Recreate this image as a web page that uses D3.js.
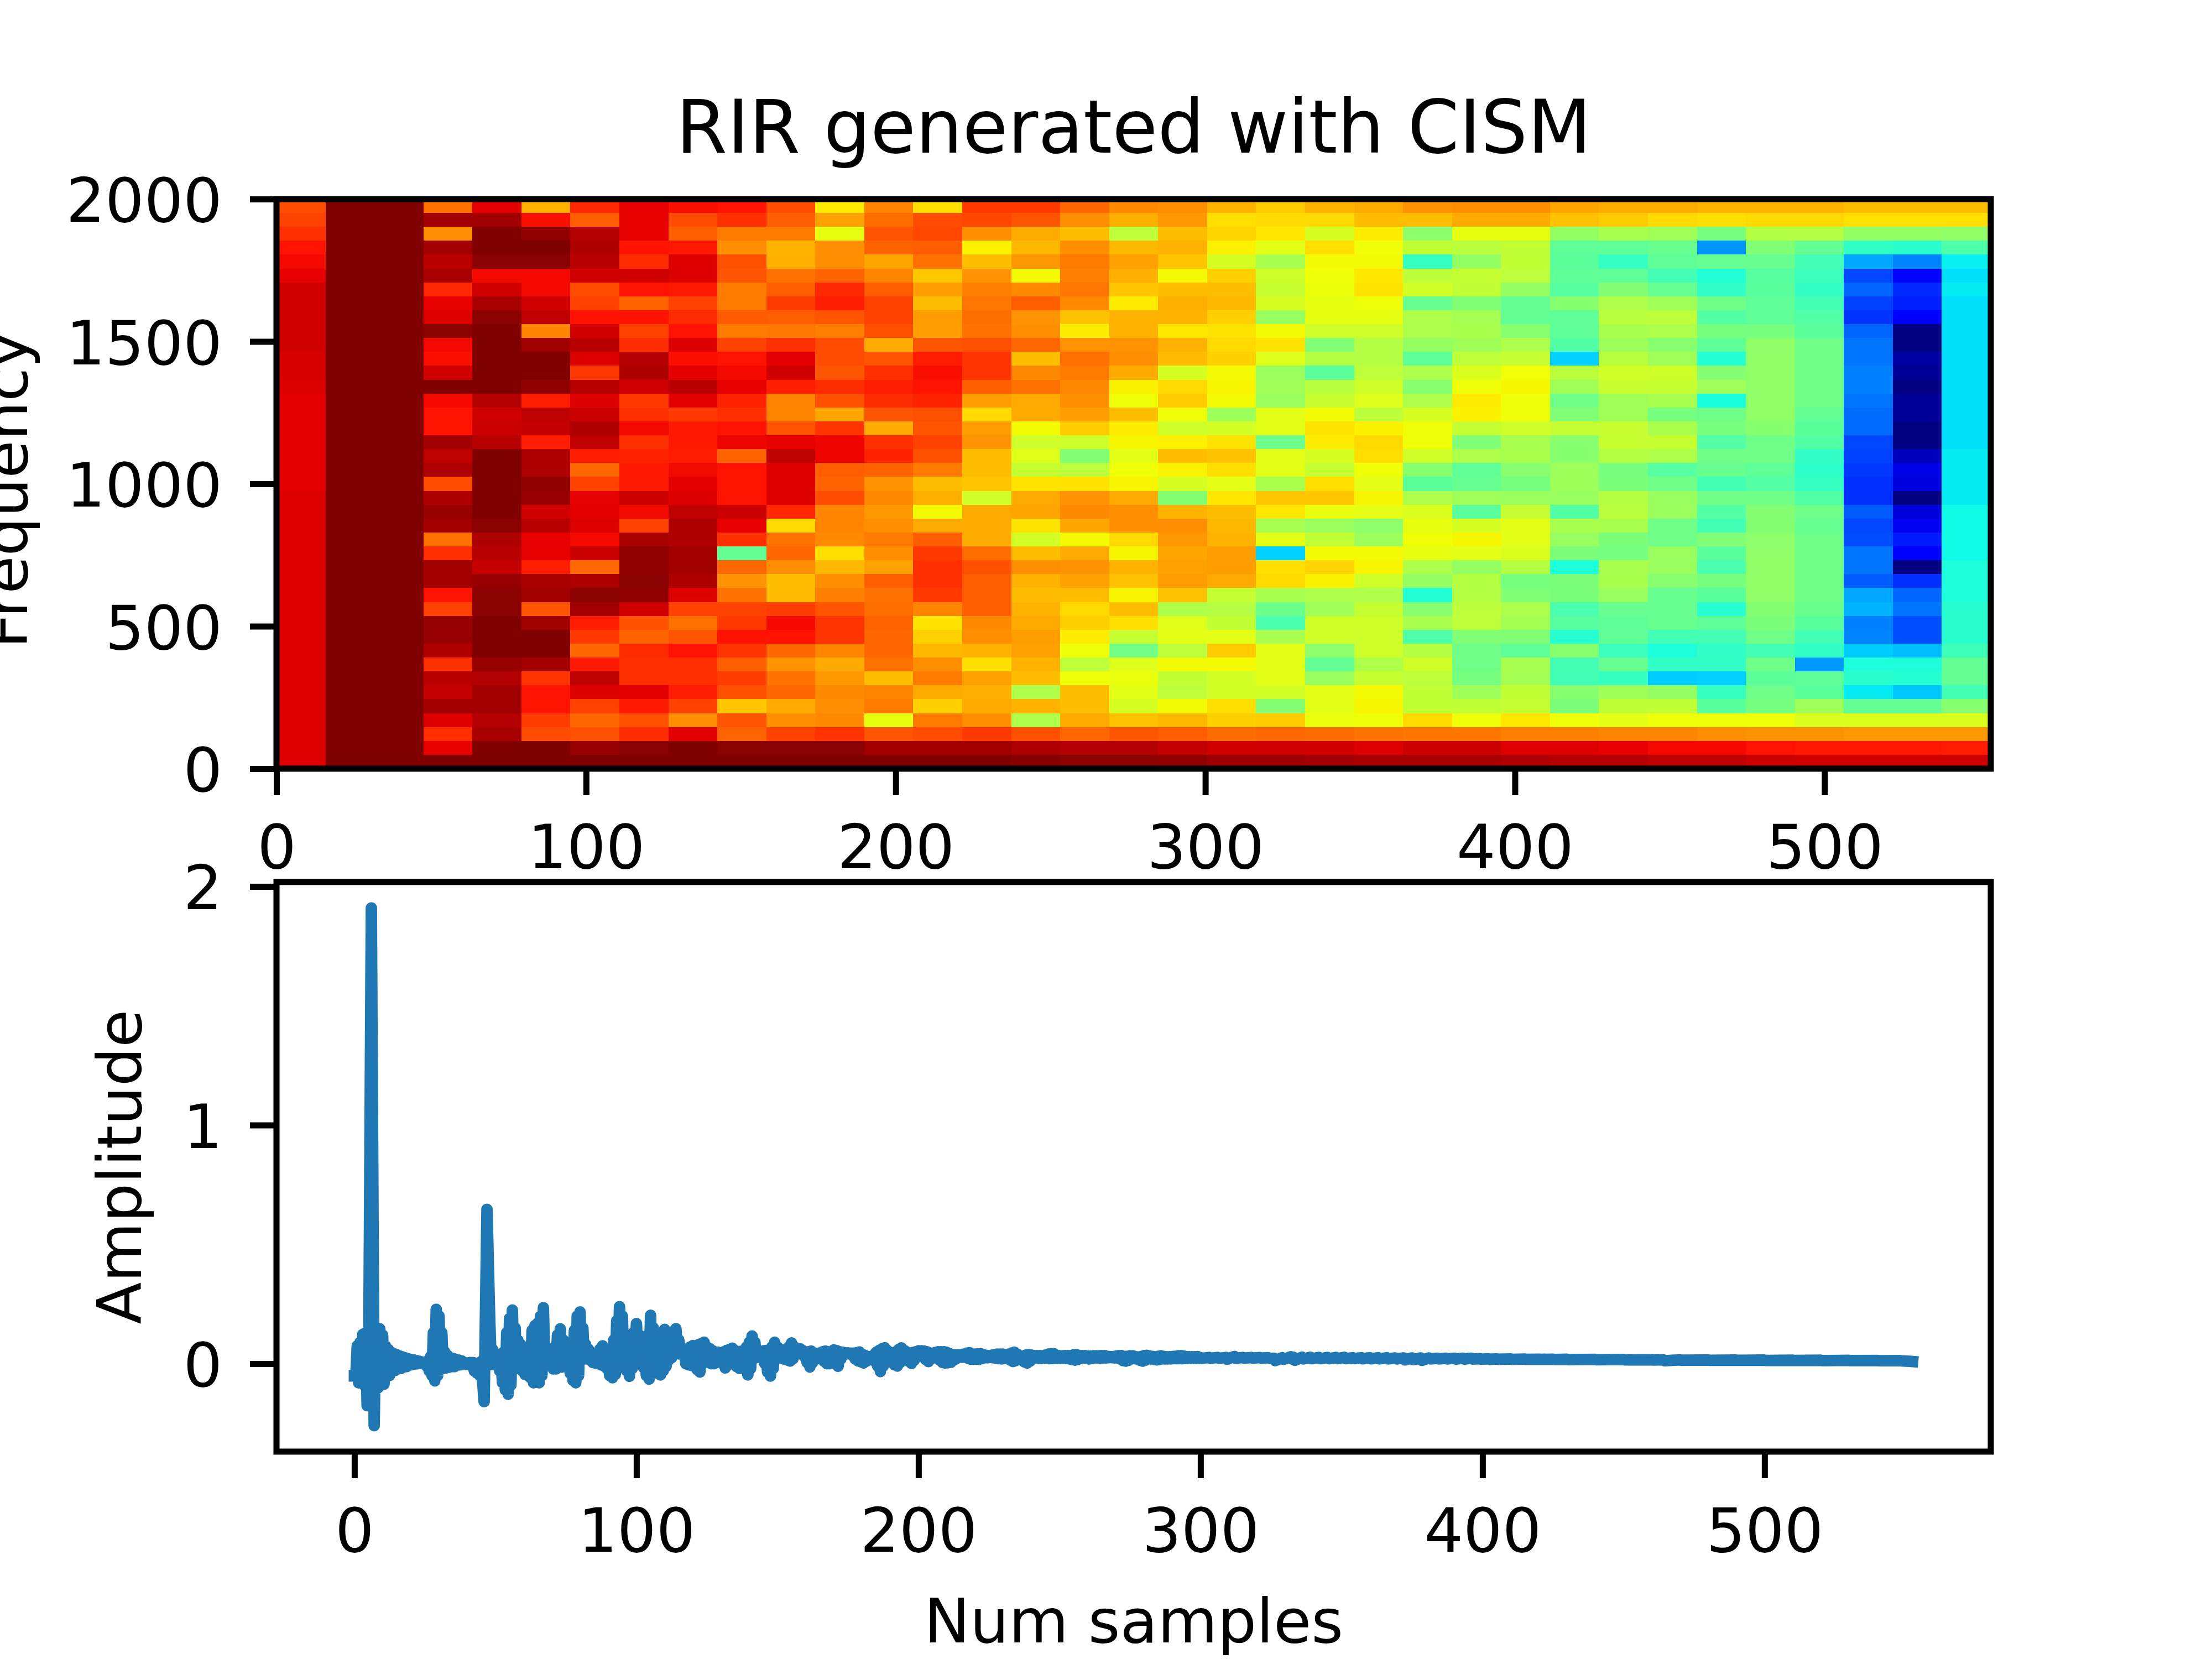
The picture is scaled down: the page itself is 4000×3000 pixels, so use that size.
<!DOCTYPE html>
<html><head><meta charset="utf-8">
<script src="https://cdn.jsdelivr.net/npm/d3@7"></script>
<style>html,body{margin:0;padding:0;background:#fff}svg{display:block}text{font-family:"DejaVu Sans";fill:#000}</style>
</head><body><div id="chart"></div>
<script>
// Spectrogram levels (0-100 on the jet colour range), one array per time column, top row (2000 Hz) first.
const col00=[83,84,86,89,90,91,93,93,93,93,93,92.5,92.5,92,91.5,91.5,91.5,91.5,91.5,91.5,91.5,92,92,92,92,92,92,92,92,92,92,92,92,92,92,92,92,92,92,92,92];
const col01=[100,100,100,100,100,100,100,100,100,100,100,100,100,100,100,100,100,100,100,100,100,100,100,100,100,100,100,100,100,100,100,100,100,100,100,100,100,100,100,100,100];
const col02=[100,100,100,100,100,100,100,100,100,100,100,100,100,100,100,100,100,100,100,100,100,100,100,100,100,100,100,100,100,100,100,100,100,100,100,100,100,100,100,100,100];
const col03=[79,97,76,97,95,96.5,87,91,92,99,90,89.5,93,100,90,89,89,97,94.5,96,83,96,98,97,79,86,97,97,89,84,98,98,96,86,95,94,97,92,86,91,100];
const col04=[91.5,97,100,100,99,90,93,96.5,99,100,100,100,100,100,95.5,93,93.5,95,100,100,100,100,100,99,96,95,94,98,99,99,100,100,100,98,95.5,97,97,95.5,96.5,100,100];
const col05=[72,89.5,98.5,100,99,90,90,93,94.5,77,97,100,100,98.5,88,94.5,94,88,96,96,98.5,98,93,95,91,91,88,96.5,97,82,97,100,100,97,85.5,89,89,84.5,83,100,100];
const col06=[87,81,95.5,96,95,93,83,84,89,93,95,92,85,95,92,93.5,96,94.5,88,80,84,91,91.5,92,90,93.5,80,96,99,97,88,85,80,88.5,94.5,92,84,80,82.5,98,100];
const col07=[91,91,91,89,86.5,93,89,80.5,89,84,86.5,95.5,96,93,85,86,90,86,87.5,88.5,88.5,93.5,90,84,96.5,98.5,98.5,99,98.5,93,82.5,80.5,86.5,86,86,91.5,88.5,82.5,86.5,99,100];
const col08=[89.5,83,81,88.5,92,92,88.5,84,86.5,89,92,89.5,91.5,95,91.5,85,88.5,88.5,88,90,91.5,92,94.5,96,96,97,97,96,92,84,79,82,89,86,86,88,84,76,91.5,100,100];
const col09=[89,86,78,76,82.5,82,78,78,81.5,78,84,89,90,91,87.5,86,89,90.5,80.5,89,89,89,93.5,91,86,47,80,75.5,79,84,85,89,85.5,81,84.5,82.5,70,82,80.5,99,100];
const col10=[83,81,78,72,72.5,79,81,84.5,81,78.5,86,91.5,93,88,77,77,82,91,94.5,92,92,92,87,68,79,80,76,71,71,84.5,90,89,80,75.5,79,80,73,76,84,99,100];
const col11=[66,74,63,76,76,80.5,87,88,82,77.5,83,83,82,86.5,82.5,73.5,85.5,90.5,90.5,81,80.5,83,77,77,76.5,67.5,71.5,76,77.5,82,85.5,85.5,77,73,75,76.5,76,76.5,85.5,99,100];
const col12=[77,79.5,82,80.5,73.5,77,81,84,84,82.5,73,82,86,88,86.5,82,73,86,87.5,80.5,75.5,76.5,75,76,78,76,74,81,79,79.5,80.5,80,80,79,71,77,78,63,82,97,100];
const col13=[67.5,83,83.5,81,79,70,74.5,71,74.5,74.5,82,88,89.5,89,87.5,82.5,82,84,82.5,78,71,72.5,64.5,73,81,85,86,86,85,77,67,69,71.5,76,78,73,69,78,83,97,100];
const col14=[85,83.5,76,65.5,71,75.5,77.5,78.5,79.5,79,82.5,85.5,85.5,81,74.5,68,74.5,75.5,71,71,70,60,73,73,73,79.5,82.5,81,81,81,76.5,76,72,67.5,74,72.5,73,76,85,97,100];
const col15=[85,82,73,71.5,75,64.5,76.5,81,75.5,76,80,71,76.5,79,73,73,64.5,60,62,59,67,73,73.5,67,60.5,71,76,72,71,72,73,74.5,74,72,71,56,72,56,82.5,96,99.5];
const col16=[80,76,71,76,78,77.5,78.5,76.5,70.5,66,75.5,79,78,76.5,76,74.5,69.5,60,51,58,67,75.5,76.5,73.5,64.5,73,75.5,74,71,68,69,66,64,58,64,71,71,73,80,95.5,99];
const col17=[76.5,72.5,58,71.5,74,72.5,70,66,72,72,75.5,76,73,65.5,64,71,66,65,62.5,64,65,73,76,76,68,65,72,70.5,65,71,67.5,59,49,62,63.5,62.5,61,70.5,82,95.5,99];
const col18=[76,75,71,72,70,64.5,71,72.5,72,66.5,72,71,61,68,69.5,64,60,65.5,71,65.5,61,51,72,76,75,73.5,74,74.5,70.5,56,62,62.5,58,64.5,58.5,58,64.5,71.5,81,94,98.5];
const col19=[72,67.5,68.5,65.5,61,69,71,71.5,69,67,68,69,64.5,65,64.5,54,60.5,67,70.5,67.5,62.5,66.5,71,71.5,72,74.5,74.5,73,59,57,58.5,62.5,69.5,64.5,60.5,60.5,67.5,69,79.5,93,97.5];
const col20=[69.5,68,66.5,62.5,55.5,60,59,61,53.5,64.5,67,62,53.5,54.5,53.5,62.5,62.5,48,62.5,62.5,55.5,70,66.5,55,62.5,33,67.5,68,55.5,48,44,55.5,62.5,62.5,62.5,60.5,51,69.5,80,93,97.5];
const col21=[72,68,61,67.5,64.5,64,63.5,63,63,60,50.5,57,46,57.5,59,64.5,67,66,61,59,67.5,70,63.5,53.5,58.5,64.5,68.5,65.5,56,54.5,60,60,52,47,53.5,62.5,62.5,63.5,79.5,93,97];
const col22=[73,71,66,64,64.5,66.5,67,64,63,60,57,57,58,60,62,58,65.5,68,67.5,64,62.5,65,62.5,52,54,64.5,65,60,56,59,60,60,60,56,59,64.5,65,64,79,92,96.5];
const col23=[75.5,71,52,58.5,41.5,58,60.5,47.5,56,56,53,46.5,56,51.5,56,61,64,64,60,51.5,46,56,61.5,63,64,63,56,53,39,51.5,55.5,44.5,57,60,58,58.5,58.5,68,78.5,93.5,96.5];
const col24=[76,73,63,57.5,53,59,58.5,50.5,55,55.5,54.5,58,61.5,64,66,65.5,59,50.5,56,46.5,47.5,54.5,46,61,65,62.5,53,57,57,58,58,50.5,48.5,48.5,49.5,54,58.5,64,78.5,93.5,96.5];
const col25=[76,73,63,58.5,58.5,58,53,47,47,51.5,56,59,64,65,64,64,60,55.5,55.5,51.5,49.5,53.5,59,62.5,62.5,61.5,57,49.5,50.5,56,55,50.5,46.5,55.5,55,58.5,59,66.5,77.5,92,96];
const col26=[73.5,70.5,53,46.5,46,46.5,45.5,51.5,46.5,46.5,45,33,57.5,54.5,48.5,50.5,59,51.5,51.5,54,54,53.5,45,55.5,53.5,50,38.5,50,50,44,45.5,39.5,51.5,43,43,51.5,50,64,77.5,92,95.5];
const col27=[73,69.5,55.5,46.5,41.5,46.5,51,56,57.5,55.5,54,57.5,60.5,59,54.5,54.5,59,59,57,49.5,50,57,57.5,55.5,50,49.5,55.5,55.5,53.5,47.5,46.5,46.5,42,47.5,41.5,54,58.5,62.5,77,91,95.5];
const col28=[73,68,54.5,47.5,46.5,43,47.5,54.5,58,56,51.5,54.5,60,59,55.5,49.5,55.5,59,56,45.5,48.5,53.5,53.5,48.5,48.5,53.5,53.5,51.5,47.5,47.5,47.5,43,38.5,41,32.5,53,58.5,64,77,90,94.5];
const col29=[72,67.5,49.5,27,47.5,39,41,48.5,45,49.5,46.5,39.5,51,54.5,38,48.5,49.5,45,48.5,47.5,43,48.5,45,43,50.5,46,44,49.5,46,39.5,46.5,43,41,41,33,41.5,46,64,76,90,94.5];
const col30=[72,68,57,50.5,47.5,45.5,46,46.5,46.5,49.5,52.5,52.5,52.5,52.5,52.5,52.5,51.5,48.5,48.5,46.5,45,48.5,51,51,52,52.5,52.5,52.5,52.5,51,50,48.5,43,48.5,46,48.5,49.5,64,75.5,89,93.5];
const col31=[72,68,57,47,43,42,41,43,45,46,48.5,48.5,48.5,48.5,48.5,47,46,45,41,40.5,41.5,45,48.5,47.5,48.5,48.5,48.5,48.5,48.5,47.5,46,43,41,27.5,46.5,46,54.5,61.5,75.5,88.5,93];
const col32=[71,67.5,53,41,29,19.5,22.5,19,17.5,22.5,24,24,25,25,24,23,23,19.5,19,18,17,17,21.5,19.5,20,24,24,21.5,29,30,25,25.5,32.5,38.5,40,35.5,47,61.5,75,88.5,93];
const col33=[71,67.5,53,40,25.5,12,16.5,15.5,12,0,0,3,2,0,2,2,0,0,5,9,8,0,8,10,15,12,0,17,22.5,24,20,20,31,38.5,39.5,32,47,61.5,75,88.5,93];
const col34=[71,67.5,52.5,44.5,36,34.5,35.5,34.5,34.5,34.5,34.5,34.5,34.5,34.5,34.5,34.5,34.5,34.5,35.5,35.5,35.5,35.5,37,37,37,37,38.5,38.5,38.5,40,40,40,42.5,47,47,43,51.5,61.5,75,88,93];
const spectrogram=[col00,col01,col02,col03,col04,col05,col06,col07,col08,col09,col10,col11,col12,col13,col14,col15,col16,col17,col18,col19,col20,col21,col22,col23,col24,col25,col26,col27,col28,col29,col30,col31,col32,col33,col34];

// Waveform: the fast oscillation swings between two values at each sample.
const sampleIndex=[0,1,2,3,4,5,6,7,8,9,10,11,12,13,14,15,16,17,18,19,20,21,22,23,24,25,26,27,28,29,30,31,32,33,34,35,36,37,38,39,40,41,42,43,44,45,46,47,48,49,
50,51,52,53,54,55,56,57,58,59,60,61,62,63,64,65,66,67,68,69,70,71,72,73,74,75,76,77,78,79,80,81,82,83,84,85,86,87,88,89,90,91,92,93,94,95,96,97,98,99,
100,101,102,103,104,105,106,107,108,109,110,111,112,113,114,115,116,117,118,119,120,121,122,123,124,125,126,127,128,129,130,131,132,133,134,135,136,137,138,139,140,141,142,143,144,145,146,147,148,149,
150,151,152,153,154,155,156,157,158,159,160,161,162,163,164,165,166,167,168,169,170,171,172,173,174,175,176,177,178,179,180,181,182,183,184,185,186,187,188,189,190,191,192,193,194,195,196,197,198,199,
200,201,202,203,204,205,206,207,208,209,210,211,212,213,214,215,216,217,218,219,
220,221,222,223,224,225,226,227,228,229,230,231,232,233,234,235,236,237,238,239,240,241,242,243,244,245,246,247,248,249,250,251,252,253,254,255,256,257,258,259,
260,261,262,263,264,265,266,267,268,269,270,271,272,273,274,275,276,277,278,279,280,281,282,283,284,285,286,287,288,289,290,291,292,293,294,295,296,297,298,299,
300,303,306,309,312,315,318,321,324,326,329,332,333,336,339,342,345,348,351,354,357,360,363,366,369,372,375,378,381,384,387,390,393,396,399,402,405,
410,415,420,425,430,440,450,460,464,470,480,490,500,510,520,530,540,548,552];
const upperSwing=[-.051,.075,.09,.123,.13,-.12,1.91,-.26,.14,.146,
.12,.075,.06,.048,.042,.038,.033,.029,.025,.021,
.018,.016,.013,.01,.007,.004,.012,.03,.13,.228,
.2,.13,.05,.035,.025,.022,.018,.015,.012,.005,
.003,.005,.005,.002,0,.01,-.159,.647,.176,.06,
.044,.03,.013,.05,.13,.19,.225,.15,.098,.08,
.071,.05,.063,.14,.16,.17,.2,.235,.06,.055,
.052,.07,.12,.146,.1,.063,.06,.07,.14,.2,
.217,.15,.08,.06,.04,.03,.03,.06,.075,.06,
.03,.02,.1,.18,.239,.2,.12,.05,.08,.13,
.168,.12,.07,.063,.12,.203,.15,.09,.09,.12,
.144,.125,.125,.135,.147,.1,.067,.058,.06,.07,
.076,.075,.08,.085,.09,.07,.063,.055,.048,.048,
.044,.05,.056,.06,.065,.055,.048,.052,.056,.07,
.09,.116,.09,.048,.05,.054,.055,.056,.07,.09,
.07,.06,.058,.056,.07,.087,.07,.06,.063,.055,
.044,.05,.053,.045,.038,.045,.05,.053,.05,.05,
.058,.055,.05,.048,.046,.045,.044,.044,.046,.049,
.04,.035,.03,.028,.035,.048,.055,.062,.067,.055,
.048,.04,.05,.06,.066,.055,.048,.045,.047,.05,
.054,.054,.053,.05,.045,.044,.047,.05,.05,.05,
.048,.042,.038,.037,.037,.037,.04,.044,.046,.04,
.04,.041,.042,.038,.035,.034,.036,.038,.04,.04,
.04,.035,.04,.045,.048,.04,.032,.032,.036,.038,
.036,.034,.034,.034,.033,.036,.04,.042,.042,.035,
.033,.033,.034,.034,.034,.037,.038,.035,.034,.034,
.032,.032,.033,.033,.033,.034,.034,.031,.03,.03,
.032,.034,.034,.03,.031,.033,.033,.03,.028,.03,
.034,.035,.032,.03,.028,.031,.033,.03,.029,.029,
.03,.031,.033,.034,.032,.03,.029,.029,.029,.03,
.0255,.026,.026,.026,.03,.026,.026,.0255,.025,.023,.025,.029,.027,.027,.027,.026,.026,.026,.027,.025,.025,.025,.025,.025,.024,.024,.024,.024,.024,.023,.023,.023,.023,.023,.021,.0205,.02,
.02,.0195,.019,.019,.0185,.018,.0175,.0165,.0165,.016,.0155,.015,.015,.0145,.0145,.014,.0135,.013,.0095];
const lowerSwing=[-.051,-.08,-.08,-.09,-.176,.9,.825,.14,-.1,-.086,
-.086,-.05,-.049,-.03,-.028,-.022,-.02,-.014,-.012,-.006,
-.004,-.001,0,.001,.001,-.009,-.03,-.05,-.072,-.05,
-.02,-.02,-.018,-.015,-.012,-.012,-.005,-.005,-.003,-.003,
-.003,-.01,-.03,-.04,-.05,-.08,.24,.41,-.004,-.004,
-.004,-.03,-.08,-.11,-.128,-.09,-.02,-.02,-.02,-.03,
-.045,-.05,-.06,-.08,-.075,-.08,-.05,.015,0,-.01,
-.022,-.022,-.014,-.014,-.01,-.014,-.04,-.07,-.08,-.05,
.02,.02,.02,.015,.005,.002,.007,-.005,-.01,-.02,
-.05,-.059,-.045,-.02,.018,.01,-.03,-.053,-.02,.02,
.025,.02,-.016,-.05,-.065,-.04,-.036,-.04,-.047,-.03,
-.012,.015,.025,.04,.049,.04,.038,0,-.005,-.007,
-.01,-.025,-.035,0,.033,.02,0,0,.01,.015,
0,-.018,-.005,.011,0,-.012,-.02,-.018,-.016,-.047,
-.02,.025,.025,.028,.028,0,-.035,-.052,-.02,.027,
.025,.022,.019,.015,.011,.02,.038,.045,.049,.03,
.005,-.014,.005,.022,.022,.02,.01,0,0,.01,
0,-.011,.02,.04,.042,.042,.035,.02,.012,.008,
.003,.01,.017,.018,.01,-.01,-.033,-.01,.011,.011,
.005,-.005,-.01,.005,.022,.02,.01,.001,.015,.03,
.04,.03,.018,.009,.02,.028,.025,.015,.005,.003,
.004,.006,.015,.022,.027,.027,.027,.023,.019,.019,
.019,.018,.022,.025,.025,.026,.025,.023,.021,.02,
.022,.022,.015,.009,.013,.017,.018,.008,.003,.01,
.024,.024,.023,.023,.024,.023,.021,.022,.023,.023,
.023,.023,.022,.02,.017,.015,.018,.024,.024,.022,
.02,.022,.024,.024,.023,.024,.024,.025,.025,.024,
.024,.02,.013,.011,.014,.021,.021,.02,.014,.011,
.015,.022,.02,.018,.016,.018,.02,.02,.02,.02,
.021,.021,.021,.021,.022,.022,.022,.022,.022,.023,
.0225,.0225,.0225,.019,.0225,.0235,.0235,.0235,.022,.013,.0185,.019,.0145,.02,.021,.021,.021,.021,.021,.021,.0205,.0205,.02,.02,.02,.016,.017,.014,.02,.02,.02,.0195,.0195,.0195,.019,.0185,.0185,
.018,.018,.018,.0175,.017,.0165,.016,.0155,.0125,.0145,.014,.014,.0135,.0135,.013,.013,.0125,.012,.009];

const specXTicks=[0,100,200,300,400,500];
const freqTicks=[0,500,1000,1500,2000];
const waveXTicks=[0,100,200,300,400,500];
const ampTicks=[0,1,2];
const titleText="RIR generated with CISM";
const freqLabel="Frequency", ampLabel="Amplitude", xLabel="Num samples";

const W=4000,H=3000,L=500,R=3600,T1=360,B1=1390,T2=1595,B2=2625;
const FS=111,TS=133.3,SW=11,TL=48;

const svg=d3.select("#chart").append("svg").attr("width",W).attr("height",H).attr("viewBox",`0 0 ${W} ${H}`);
svg.append("rect").attr("width",W).attr("height",H).attr("fill","#fff");

// matplotlib jet, channel by channel
const rC=d3.scaleLinear().domain([0,.35,.66,.89,1]).range([0,0,1,1,.5]);
const gC=d3.scaleLinear().domain([0,.125,.375,.64,.91,1]).range([0,0,1,1,0,0]);
const bC=d3.scaleLinear().domain([0,.11,.34,.65,1]).range([.5,1,1,0,0]);
const jet=v=>{const t=v/100;return d3.rgb(rC(t)*255,gC(t)*255,bC(t)*255).formatHex();};

const xS=d3.scaleLinear().domain([0,553.7]).range([L,R]);
const yS=d3.scaleLinear().domain([0,2000]).range([B1,T1]);
const nCols=spectrogram.length,nRows=col00.length;
const dxBin=553.7/nCols,dyBin=2000/nRows;
const cells=spectrogram.flatMap((c,i)=>c.map((v,r)=>({i,r,v})));
svg.append("g").selectAll("rect").data(cells).join("rect")
  .attr("x",d=>xS(d.i*dxBin))
  .attr("width",d=>xS((d.i+1)*dxBin)-xS(d.i*dxBin)+.6)
  .attr("y",d=>yS(2000-d.r*dyBin))
  .attr("height",d=>yS(2000-(d.r+1)*dyBin)-yS(2000-d.r*dyBin)+.6)
  .attr("fill",d=>jet(d.v))
  .attr("shape-rendering","crispEdges");

const xW=d3.scaleLinear().domain([-27.63,580.23]).range([L,R]);
const yW=d3.scaleLinear().domain([-.3685,2.0185]).range([B2,T2]);
const line=d3.line().x(d=>xW(d[0])).y(d=>yW(d[1])).curve(d3.curveLinear);
const wavePoints=sampleIndex.flatMap((s,i)=>[[s,upperSwing[i]],[s+.5,lowerSwing[i]]]);
svg.append("path").datum(wavePoints).attr("d",line)
  .attr("fill","none").attr("stroke","#1f77b4").attr("stroke-width",20.8)
  .attr("stroke-linejoin","round").attr("stroke-linecap","square");

function styleAxis(g){
  g.select(".domain").remove();
  g.selectAll(".tick line").attr("stroke","#000").attr("stroke-width",SW);
  g.selectAll(".tick text").attr("font-size",FS).attr("font-family","DejaVu Sans").attr("fill","#000");
}
const shiftDown=g=>g.selectAll(".tick text").attr("y",5);
svg.append("g").attr("transform",`translate(0,${B1})`).call(d3.axisBottom(xS).tickValues(specXTicks).tickFormat(d3.format("d")).tickSize(TL).tickPadding(53)).call(styleAxis);
svg.append("g").attr("transform",`translate(${L},0)`).call(d3.axisLeft(yS).tickValues(freqTicks).tickFormat(d3.format("d")).tickSize(TL).tickPadding(50)).call(styleAxis).call(shiftDown);
svg.append("g").attr("transform",`translate(0,${B2})`).call(d3.axisBottom(xW).tickValues(waveXTicks).tickFormat(d3.format("d")).tickSize(TL).tickPadding(54)).call(styleAxis);
svg.append("g").attr("transform",`translate(${L},0)`).call(d3.axisLeft(yW).tickValues(ampTicks).tickFormat(d3.format("d")).tickSize(TL).tickPadding(50)).call(styleAxis).call(shiftDown);

for(const [t,b] of [[T1,B1],[T2,B2]]){
  svg.append("rect").attr("x",L).attr("y",t).attr("width",R-L).attr("height",b-t)
    .attr("fill","none").attr("stroke","#000").attr("stroke-width",SW);
}
svg.append("text").attr("x",2050).attr("y",276).attr("text-anchor","middle").attr("font-size",TS).text(titleText);
svg.append("text").attr("x",2050).attr("y",2970).attr("text-anchor","middle").attr("font-size",FS).text(xLabel);
svg.append("text").attr("transform","translate(49,886) rotate(-90)").attr("text-anchor","middle").attr("font-size",FS).text(freqLabel);
svg.append("text").attr("transform","translate(255,2110) rotate(-90)").attr("text-anchor","middle").attr("font-size",FS).text(ampLabel);
</script></body></html>
